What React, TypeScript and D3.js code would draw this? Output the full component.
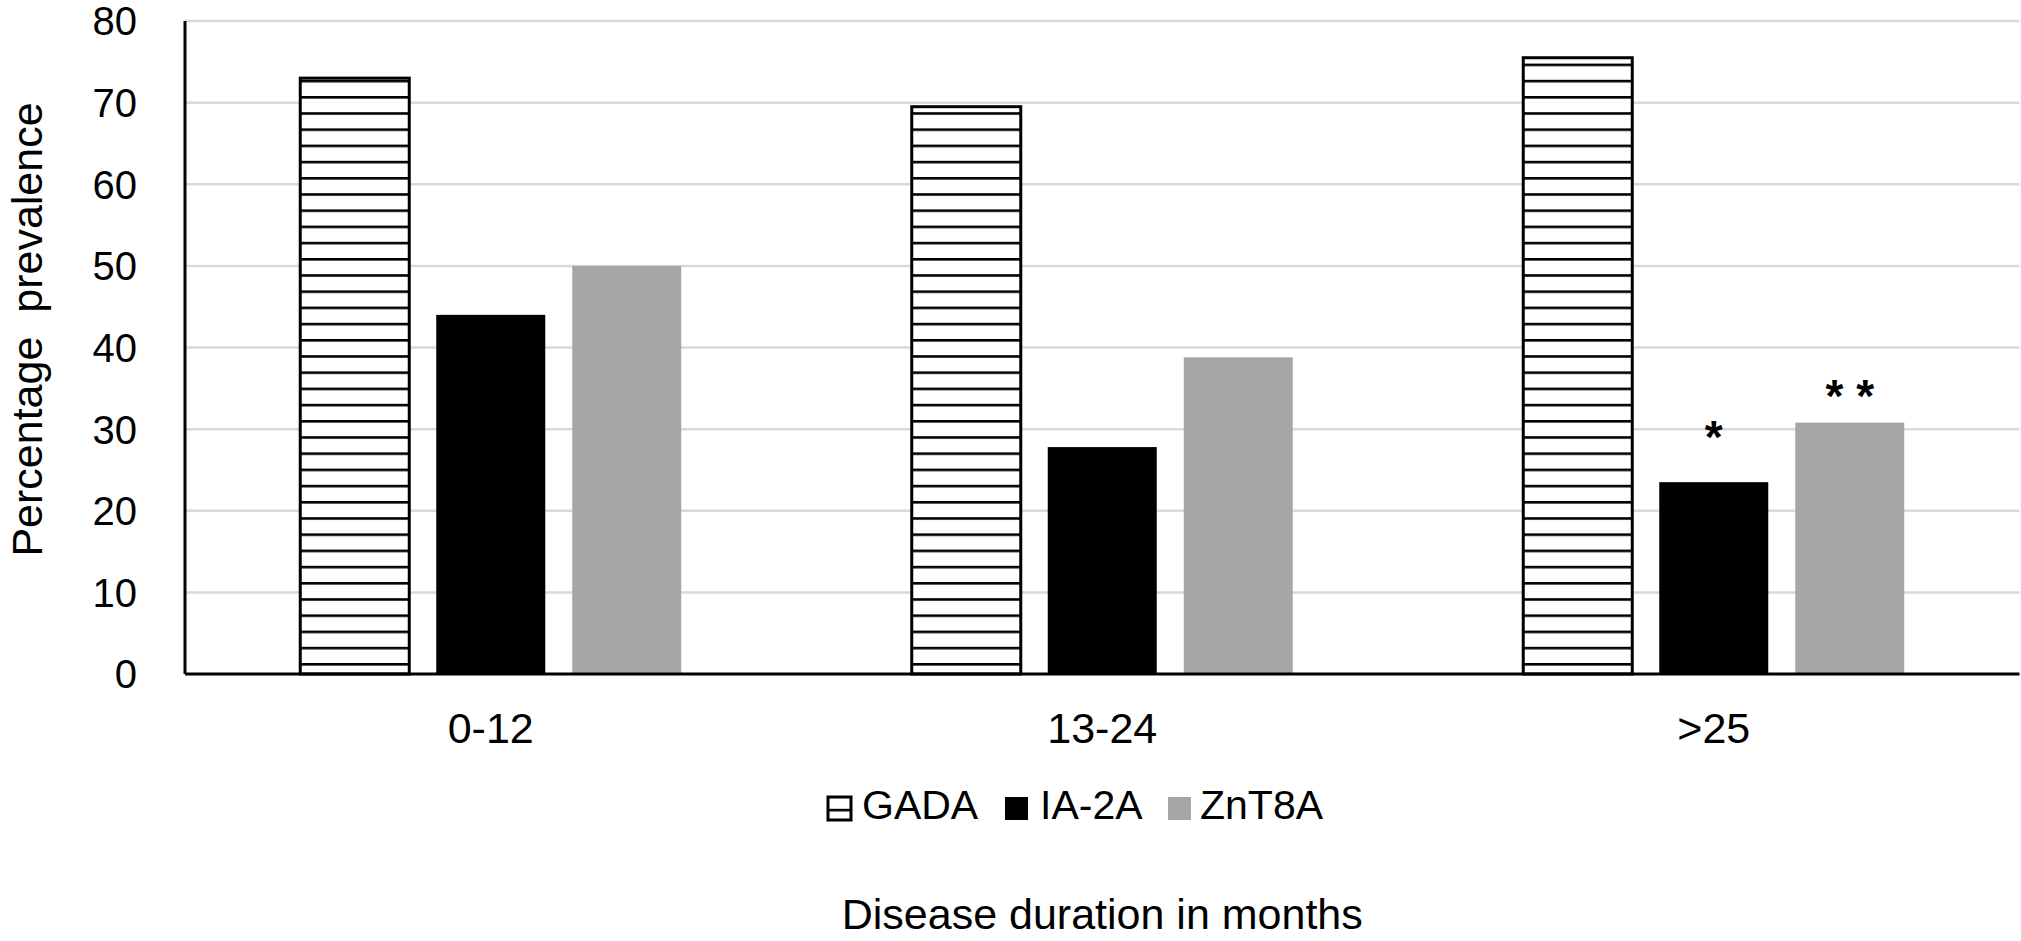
import React, { useEffect, useRef } from 'react';
import * as d3 from 'd3';

const categories = ['0-12', '13-24', '>25'];
const seriesNames = ['GADA', 'IA-2A', 'ZnT8A'];
const gadaValues = [73, 69.5, 75.5];
const ia2aValues = [44, 27.8, 23.5];
const znt8aValues = [50, 38.8, 30.8];
const yTicks = [0, 10, 20, 30, 40, 50, 60, 70, 80];
// significance marks, level = baseline height in data units
const marks = [
  { category: '>25', series: 'IA-2A', text: '*', level: 27.1 },
  { category: '>25', series: 'ZnT8A', text: '* *', level: 32.1 },
];

const FONT = "'Liberation Sans', Arial, Helvetica, sans-serif";

const App: React.FC = () => {
  const svgRef = useRef<SVGSVGElement | null>(null);

  useEffect(() => {
    const svg = d3.select(svgRef.current);
    svg.selectAll('*').remove();

    const width = 2021;
    const height = 941;
    const left = 185;
    const right = 2019.5;
    const top = 21;
    const bottom = 674;

    svg.attr('width', width).attr('height', height);

    const defs = svg.append('defs');
    const pat = defs
      .append('pattern')
      .attr('id', 'stripes')
      .attr('patternUnits', 'userSpaceOnUse')
      .attr('x', 0)
      .attr('y', 96)
      .attr('width', 20)
      .attr('height', 16.2);
    pat.append('rect').attr('width', 20).attr('height', 16.2).attr('fill', '#fff');
    pat.append('rect').attr('width', 20).attr('height', 2.6).attr('fill', '#000');

    const x0 = d3.scaleBand<string>().domain(categories).range([left, right]);
    const x1 = d3.scaleBand<string>().domain(seriesNames).range([-204, 204]);
    const barW = 109;
    const y = d3.scaleLinear().domain([0, 80]).range([bottom, top]);

    const fills: Record<string, string> = {
      GADA: 'url(#stripes)',
      'IA-2A': '#000',
      ZnT8A: '#a6a6a6',
    };
    const valuesBySeries: Record<string, number[]> = {
      GADA: gadaValues,
      'IA-2A': ia2aValues,
      ZnT8A: znt8aValues,
    };

    const g = svg.append('g');

    // gridlines
    g.selectAll('line.grid')
      .data(yTicks.filter((t) => t > 0))
      .join('line')
      .attr('class', 'grid')
      .attr('x1', left)
      .attr('x2', right)
      .attr('y1', (d) => y(d))
      .attr('y2', (d) => y(d))
      .attr('stroke', '#d9d9d9')
      .attr('stroke-width', 2.5);

    // y tick labels
    g.selectAll('text.ytick')
      .data(yTicks)
      .join('text')
      .attr('class', 'ytick')
      .attr('x', 137)
      .attr('y', (d) => y(d))
      .attr('dy', '0.36em')
      .attr('text-anchor', 'end')
      .attr('font-family', FONT)
      .attr('font-size', 40)
      .text((d) => d);

    const center = (c: string) => (x0(c) as number) + x0.bandwidth() / 2;
    const barX = (c: string, s: string) =>
      center(c) + (x1(s) as number) + (x1.bandwidth() - barW) / 2;

    // bars
    seriesNames.forEach((s) => {
      const vals = valuesBySeries[s];
      g.selectAll(`rect.bar-${s}`)
        .data(categories)
        .join('rect')
        .attr('x', (c) => barX(c, s))
        .attr('y', (c, i) => y(vals[i]))
        .attr('width', barW)
        .attr('height', (c, i) => bottom - y(vals[i]))
        .attr('fill', fills[s])
        .attr('stroke', s === 'GADA' ? '#000' : 'none')
        .attr('stroke-width', 3);
    });

    // significance marks
    g.selectAll('text.mark')
      .data(marks)
      .join('text')
      .attr('class', 'mark')
      .attr('x', (d) => barX(d.category, d.series) + barW / 2)
      .attr('y', (d) => y(d.level))
      .attr('text-anchor', 'middle')
      .attr('font-family', FONT)
      .attr('font-weight', 'bold')
      .attr('font-size', 46)
      .style('white-space', 'pre')
      .text((d) => d.text);

    // axes
    g.append('line')
      .attr('x1', left)
      .attr('x2', left)
      .attr('y1', top)
      .attr('y2', bottom)
      .attr('stroke', '#000')
      .attr('stroke-width', 3);
    g.append('line')
      .attr('x1', left)
      .attr('x2', right)
      .attr('y1', bottom)
      .attr('y2', bottom)
      .attr('stroke', '#000')
      .attr('stroke-width', 3);

    // category labels
    g.selectAll('text.cat')
      .data(categories)
      .join('text')
      .attr('class', 'cat')
      .attr('x', (c) => center(c))
      .attr('y', 743)
      .attr('text-anchor', 'middle')
      .attr('font-family', FONT)
      .attr('font-size', 43)
      .text((c) => c);

    // legend
    const legendBoxX = [828, 1005, 1168];
    const legendTextX = [862, 1040, 1200];
    seriesNames.forEach((s, i) => {
      g.append('rect')
        .attr('x', legendBoxX[i])
        .attr('y', 797)
        .attr('width', 23)
        .attr('height', 23)
        .attr('fill', fills[s])
        .attr('stroke', s === 'GADA' ? '#000' : 'none')
        .attr('stroke-width', 3);
      g.append('text')
        .attr('x', legendTextX[i])
        .attr('y', 819)
        .attr('font-family', FONT)
        .attr('font-size', 41)
        .text(s);
    });

    // axis titles
    g.append('text')
      .attr('x', (left + right) / 2)
      .attr('y', 929)
      .attr('text-anchor', 'middle')
      .attr('font-family', FONT)
      .attr('font-size', 43)
      .text('Disease duration in months');

    g.append('text')
      .attr('transform', `translate(42, ${(top + bottom) / 2 - 18}) rotate(-90)`)
      .attr('text-anchor', 'middle')
      .attr('font-family', FONT)
      .attr('font-size', 43)
      .style('white-space', 'pre')
      .text('Percentage  prevalence');
  }, []);

  return <svg ref={svgRef} style={{ position: 'absolute', left: 0, top: 0, background: '#fff' }}></svg>;
};

export default App;
